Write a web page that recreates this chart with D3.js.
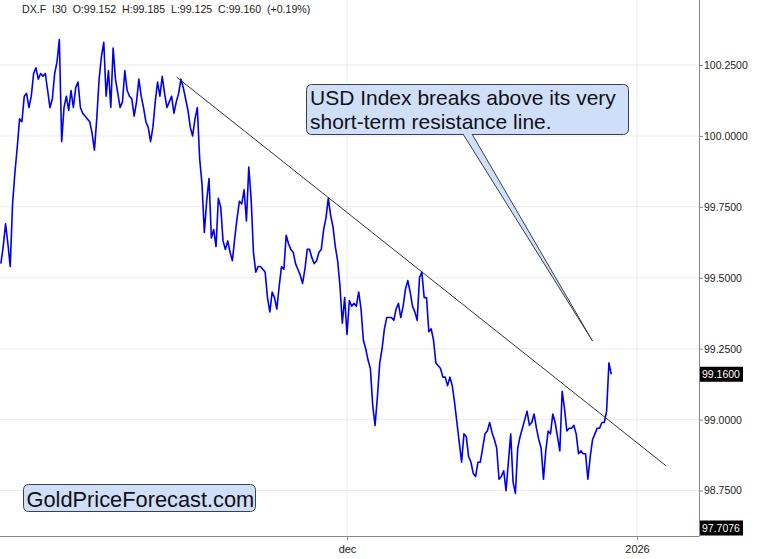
<!DOCTYPE html>
<html>
<head>
<meta charset="utf-8">
<script src="https://d3js.org/d3.v7.min.js"></script>
<title></title>
<style>
body {
  margin: 0;
  background-color: #fff;
}
svg {
  display: block;
  font-family: "Liberation Sans", Arial, Helvetica, sans-serif;
}
.grid line {
  stroke: #ececec;
  stroke-width: 1;
}
.price {
  fill: none;
  stroke: #0000ee;
  stroke-width: 1.6;
  stroke-linejoin: round;
}
.axis text {
  fill: #222;
  font-size: 10.5px;
}
.axis line, .axis path {
  stroke: #888;
}
</style>
</head>
<body>
<script>
// 6-hour closes of DX.F
const startTime = Date.UTC(2025, 9, 25, 0)
const stepHours = 6
const closes = [
  99.55, 99.61, 99.69, 99.62, 99.54, 99.76, 99.87, 99.96, 100.06, 100.05,
  100.14, 100.15, 100.10, 100.14, 100.22, 100.24, 100.20, 100.22, 100.21, 100.22,
  100.16, 100.10, 100.13, 100.22, 100.26, 100.34, 99.98, 100.10, 100.14, 100.09,
  100.16, 100.10, 100.17, 100.19, 100.10, 100.08, 100.07, 100.06, 100.05, 100.01,
  99.95, 100.06, 100.20, 100.28, 100.33, 100.14, 100.23, 100.10, 100.31, 100.20,
  100.15, 100.10, 100.12, 100.23, 100.16, 100.14, 100.13, 100.07, 100.12, 100.20,
  100.14, 100.10, 100.05, 100.03, 99.98, 100.03, 100.12, 100.19, 100.14, 100.21,
  100.15, 100.10, 100.12, 100.14, 100.08, 100.12, 100.15, 100.20, 100.17, 100.13,
  100.09, 100.03, 100.00, 100.06, 100.10, 99.92, 99.83, 99.66, 99.77, 99.85,
  99.64, 99.67, 99.61, 99.78, 99.75, 99.63, 99.60, 99.63, 99.59, 99.56,
  99.64, 99.71, 99.77, 99.76, 99.81, 99.70, 99.89, 99.78, 99.59, 99.52,
  99.54, 99.54, 99.53, 99.52, 99.43, 99.38, 99.45, 99.43, 99.39, 99.47,
  99.54, 99.53, 99.65, 99.62, 99.60, 99.59, 99.55, 99.53, 99.51, 99.48,
  99.53, 99.60, 99.60, 99.57, 99.55, 99.56, 99.59, 99.60, 99.67, 99.71,
  99.78, 99.72, 99.68, 99.61, 99.56, 99.47, 99.34, 99.43, 99.30, 99.42,
  99.40, 99.41, 99.40, 99.45, 99.39, 99.28, 99.25, 99.21, 99.18, 99.05,
  98.98, 99.08, 99.20, 99.25, 99.32, 99.36, 99.36, 99.36, 99.35, 99.39,
  99.41, 99.36, 99.40, 99.46, 99.49, 99.45, 99.40, 99.38, 99.35, 99.50,
  99.52, 99.43, 99.43, 99.31, 99.32, 99.28, 99.20, 99.19, 99.18, 99.15,
  99.15, 99.12, 99.15, 99.12, 99.06, 98.99, 98.92, 98.85, 98.95, 98.94,
  98.87, 98.85, 98.81, 98.80, 98.85, 98.85, 98.90, 98.95, 98.96, 98.99,
  98.955, 98.93, 98.90, 98.79, 98.80, 98.82, 98.75, 98.85, 98.95, 98.78,
  98.74, 98.90, 98.94, 98.97, 99.00, 99.03, 98.98, 98.99, 99.02, 98.97,
  98.93, 98.90, 98.79, 98.89, 98.96, 98.95, 99.02, 98.99, 98.94, 98.89,
  99.10, 99.04, 98.96, 98.97, 98.97, 98.98, 98.95, 98.88, 98.89, 98.88,
  98.88, 98.79, 98.87, 98.93, 98.95, 98.97, 98.97, 98.99, 98.99, 99.03,
  99.20, 99.16
]
const yTickValues = [98.75, 99.0, 99.25, 99.5, 99.75, 100.0, 100.25]
const xTickDates = [Date.UTC(2025, 11, 1), Date.UTC(2026, 0, 1)]
const xTickLabels = ['dec', '2026']
const trendTimes = [Date.UTC(2025, 10, 12, 19), Date.UTC(2026, 0, 4, 2)]
const trendValues = [100.207, 98.838]
const header = 'DX.F  I30  O:99.152  H:99.185  L:99.125  C:99.160  (+0.19%)'
const lastPrice = 99.16
const lowMarker = 97.7076
const calloutLines = ['USD Index breaks above its very', 'short-term resistance line.']
const calloutTime = Date.UTC(2025, 11, 27, 6)
const calloutValue = 99.277
const logoText = 'GoldPriceForecast.com'

let w = 765
let h = 559
let plotRight = 699
let plotBottom = 536

let svg = d3.select('body')
  .append('svg')
  .attr('width', w)
  .attr('height', h)

let data = closes.map((v, i) => ({
  time: new Date(startTime + i * stepHours * 3600 * 1000),
  value: v
}))

let xScale = d3.scaleUtc()
  .domain(xTickDates)
  .range([347, 637])

let yScale = d3.scaleLinear()
  .domain([98.590, 100.479])
  .range([plotBottom, 0])

// grid
let grid = svg.append('g').attr('class', 'grid')
grid.selectAll('.h')
  .data(yTickValues)
  .enter()
  .append('line')
  .attr('x1', 0)
  .attr('x2', plotRight)
  .attr('y1', d => yScale(d))
  .attr('y2', d => yScale(d))
grid.selectAll('.v')
  .data(xTickDates)
  .enter()
  .append('line')
  .attr('x1', d => xScale(d))
  .attr('x2', d => xScale(d))
  .attr('y1', 0)
  .attr('y2', plotBottom)

// header
svg.append('text')
  .attr('x', 22)
  .attr('y', 13)
  .style('white-space', 'pre')
  .style('font-size', '10.6px')
  .attr('fill', '#222')
  .text(header)

// price line
let valueline = d3.line()
  .x(d => xScale(d.time))
  .y(d => yScale(d.value))

svg.append('path')
  .datum(data)
  .attr('class', 'price')
  .attr('d', valueline)

// resistance line
svg.append('line')
  .attr('x1', xScale(trendTimes[0]))
  .attr('y1', yScale(trendValues[0]))
  .attr('x2', xScale(trendTimes[1]))
  .attr('y2', yScale(trendValues[1]))
  .attr('stroke', '#333')
  .attr('stroke-width', 1)

// axes
let yAxis = svg.append('g')
  .attr('class', 'axis')
  .attr('transform', `translate(${plotRight}, 0)`)
  .call(d3.axisRight(yScale)
    .tickValues(yTickValues)
    .tickFormat(d3.format('.4f'))
    .tickSize(4)
    .tickSizeOuter(0)
    .tickPadding(1))
yAxis.select('.domain').remove()
svg.append('line')
  .attr('x1', plotRight + 0.5).attr('x2', plotRight + 0.5)
  .attr('y1', 0).attr('y2', plotBottom)
  .attr('stroke', '#888')

let xAxis = svg.append('g')
  .attr('class', 'axis')
  .attr('transform', `translate(0, ${plotBottom})`)
  .call(d3.axisBottom(xScale)
    .tickValues(xTickDates)
    .tickFormat((d, i) => xTickLabels[i])
    .tickSize(4)
    .tickPadding(5))
xAxis.select('.domain').remove()
xAxis.selectAll('text').style('font-size', '11px')
svg.append('line')
  .attr('x1', 0).attr('x2', plotRight + 0.5)
  .attr('y1', plotBottom + 0.5).attr('y2', plotBottom + 0.5)
  .attr('stroke', '#888')

// value labels on the axis
let tags = [
  { value: lastPrice, y: yScale(lastPrice) },
  { value: lowMarker, y: Math.min(yScale(lowMarker), plotBottom - 8) }
]
let tag = svg.selectAll('.tag')
  .data(tags)
  .enter()
  .append('g')
  .attr('transform', d => `translate(${plotRight + 1}, ${d.y})`)
tag.append('rect')
  .attr('x', 0)
  .attr('y', -7.5)
  .attr('width', 43)
  .attr('height', 15)
  .attr('fill', '#000')
tag.append('text')
  .attr('x', 2)
  .attr('y', 4)
  .attr('fill', '#fff')
  .style('font-size', '10.5px')
  .text(d => d3.format('.4f')(d.value))

// callout
let box = { x: 306.5, y: 84.5, w: 322, h: 50 }
let tip = [xScale(calloutTime), yScale(calloutValue)]
svg.append('rect')
  .attr('x', box.x)
  .attr('y', box.y)
  .attr('width', box.w)
  .attr('height', box.h)
  .attr('rx', 5)
  .attr('fill', '#cfdffa')
  .attr('stroke', '#3a3f48')
  .attr('stroke-width', 1)
svg.append('path')
  .attr('d', `M463,${box.y + box.h - 0.5} L${tip[0]},${tip[1]} L472,${box.y + box.h - 0.5}`)
  .attr('fill', '#cfdffa')
  .attr('stroke', '#3a3f48')
  .attr('stroke-width', 1)
svg.append('text')
  .attr('fill', '#111')
  .style('font-size', '21px')
  .selectAll('tspan')
  .data(calloutLines)
  .enter()
  .append('tspan')
  .attr('x', 310)
  .attr('y', (d, i) => 105 + i * 23.6)
  .text(d => d)

// logo
svg.append('rect')
  .attr('x', 23.5)
  .attr('y', 484.5)
  .attr('width', 232)
  .attr('height', 27)
  .attr('rx', 5)
  .attr('fill', '#cfdffa')
  .attr('stroke', '#3a3f48')
svg.append('text')
  .attr('x', 26.5)
  .attr('y', 506.5)
  .attr('fill', '#111')
  .style('font-size', '21.8px')
  .text(logoText)
</script>
</body>
</html>
